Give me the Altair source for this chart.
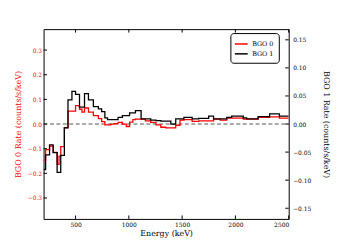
import altair as alt
import pandas as pd

# Bin edges (keV) and step values
edges = [200, 219, 256, 290, 327, 345, 361, 395, 429, 466, 500, 537, 560, 584, 621,
         667, 714, 745, 775, 800, 830, 860, 899, 939, 976, 1007, 1038, 1062, 1115,
         1155, 1205, 1255, 1300, 1347, 1394, 1440, 1480, 1517, 1548, 1594, 1656,
         1700, 1749, 1795, 1857, 1919, 1965, 2027, 2074, 2105, 2151, 2213, 2265,
         2321, 2370, 2413, 2491, 2500]

bgo0 = [-0.147, -0.104, -0.090, -0.115, -0.164, -0.130, -0.092, -0.015, 0.052, 0.052,
        0.075, 0.060, 0.048, 0.065, 0.048, 0.034, 0.022, 0.010, -0.003, -0.003,
        0.000, 0.002, 0.007, 0.000, -0.010, 0.008, 0.018, 0.020, 0.020, 0.013,
        0.007, -0.003, -0.013, -0.016, -0.016, -0.005, 0.016, 0.018, 0.018, 0.011,
        0.013, 0.013, 0.013, 0.020, 0.016, 0.024, 0.024, 0.024, 0.020, 0.020,
        0.020, 0.027, 0.027, 0.029, 0.029, 0.024, 0.024]

bgo1 = [-0.081, -0.055, -0.037, -0.051, -0.086, -0.086, -0.056, -0.007, 0.043, 0.058,
        0.053, 0.030, 0.030, 0.054, 0.043, 0.031, 0.027, 0.022, 0.011, 0.008,
        0.008, 0.008, 0.012, 0.015, 0.015, 0.020, 0.020, 0.024, 0.009, 0.009,
        0.007, 0.006, 0.005, 0.005, 0.000, 0.009, 0.009, 0.012, 0.012, 0.009,
        0.010, 0.010, 0.014, 0.009, 0.009, 0.012, 0.014, 0.014, 0.011, 0.009,
        0.009, 0.013, 0.013, 0.018, 0.018, 0.014, 0.014]

series_names = ["BGO 0", "BGO 1"]
series_colors = ["#ff0000", "#000000"]

x_ticks = [500, 1000, 1500, 2000, 2500]
left_ticks = [-0.3, -0.2, -0.1, 0.0, 0.1, 0.2, 0.3]
right_ticks = [-0.15, -0.10, -0.05, 0.0, 0.05, 0.10, 0.15]

x_domain = [200, 2500]
left_domain = [-0.385, 0.385]
right_domain = [-0.169, 0.169]

W, H = 248, 192
FONT = "DejaVu Serif"


def step_frame(vals, name):
    xs = list(edges)
    ys = list(vals) + [vals[-1]]
    return pd.DataFrame({"energy": xs, "rate": ys, "series": name})


df0 = step_frame(bgo0, series_names[0])
df1 = step_frame(bgo1, series_names[1])

xscale = alt.Scale(domain=x_domain, nice=False, zero=False)
lscale = alt.Scale(domain=left_domain, nice=False, zero=False)
rscale = alt.Scale(domain=right_domain, nice=False, zero=False)
cscale = alt.Scale(domain=series_names, range=series_colors)

x_enc = alt.X("energy:Q", scale=xscale,
              axis=alt.Axis(values=x_ticks, format="d", title="Energy (keV)", grid=False,
                            ticks=False, domain=False, labelFont=FONT, labelFontSize=6,
                            labelColor="black", labelPadding=3, titleFont=FONT,
                            titleFontSize=8, titleFontWeight="normal", titleColor="black",
                            titleY=15, titleBaseline="middle"))

legend = alt.Legend(orient="none", legendX=189, legendY=4, title=None,
                    symbolType="M-1.3,0H1.3", symbolSize=100, symbolStrokeWidth=1.5,
                    labelFont=FONT, labelFontSize=6.5, labelColor="black", labelOffset=5,
                    rowPadding=0, padding=5, strokeColor="#000000", fillColor="white",
                    cornerRadius=3, labelLimit=100)

red = alt.Chart(df0).mark_line(interpolate="step-after", strokeWidth=1.3, clip=True).encode(
    x=x_enc,
    y=alt.Y("rate:Q", scale=lscale,
            axis=alt.Axis(orient="left", values=left_ticks, format=".1f", grid=False,
                          ticks=False, domain=False, labelFont=FONT, labelFontSize=6,
                          labelColor="#ff0000", labelPadding=2,
                          title="BGO 0 Rate (counts/s/keV)", titleColor="#ff0000",
                          titleFont=FONT, titleFontSize=8, titleFontWeight="normal",
                          titleX=-25, titleY=H / 2, titleAngle=270,
                          titleBaseline="middle", titleAlign="center")),
    color=alt.Color("series:N", scale=cscale, legend=legend),
)

black = alt.Chart(df1).mark_line(interpolate="step-after", strokeWidth=1.3, clip=True).encode(
    x=alt.X("energy:Q", scale=xscale),
    y=alt.Y("rate:Q", scale=rscale,
            axis=alt.Axis(orient="right", values=right_ticks, format=".2f", grid=False,
                          ticks=False, domain=False, labelFont=FONT, labelFontSize=6,
                          labelColor="black", labelPadding=4,
                          title="BGO 1 Rate (counts/s/keV)", titleColor="black",
                          titleFont=FONT, titleFontSize=8, titleFontWeight="normal",
                          titleX=37, titleY=H / 2, titleAngle=90,
                          titleBaseline="middle", titleAlign="center")),
    color=alt.Color("series:N", scale=cscale, legend=legend),
)

zero = alt.Chart(pd.DataFrame({"v": [0.0]})).mark_rule(
    color="#555555", strokeWidth=1, strokeDash=[4, 2.5]).encode(
    y=alt.Y("v:Q", scale=lscale, axis=None),
    x=alt.value(0), x2=alt.value(W))

tick_len = 3.5
lt = alt.Chart(pd.DataFrame({"v": left_ticks})).mark_rule(color="black", strokeWidth=1).encode(
    y=alt.Y("v:Q", scale=lscale, axis=None), x=alt.value(0), x2=alt.value(tick_len))
rt = alt.Chart(pd.DataFrame({"v": right_ticks})).mark_rule(color="black", strokeWidth=1).encode(
    y=alt.Y("v:Q", scale=rscale, axis=None), x=alt.value(W - tick_len), x2=alt.value(W))
bt = alt.Chart(pd.DataFrame({"e": x_ticks})).mark_rule(color="black", strokeWidth=1).encode(
    x=alt.X("e:Q", scale=xscale), y=alt.value(H - tick_len), y2=alt.value(H))
tt = alt.Chart(pd.DataFrame({"e": x_ticks})).mark_rule(color="black", strokeWidth=1).encode(
    x=alt.X("e:Q", scale=xscale), y=alt.value(0), y2=alt.value(tick_len))

chart = alt.layer(zero, lt, rt, bt, tt, red, black).resolve_scale(
    y="independent"
).properties(
    width=W, height=H,
    autosize=alt.AutoSizeParams(type="none"),
    padding={"left": 36, "top": 20, "right": 60, "bottom": 25},
    background="white",
).configure_view(stroke="black", strokeWidth=1)

chart.save("out.html", embed_options={"renderer": "svg", "actions": False})
